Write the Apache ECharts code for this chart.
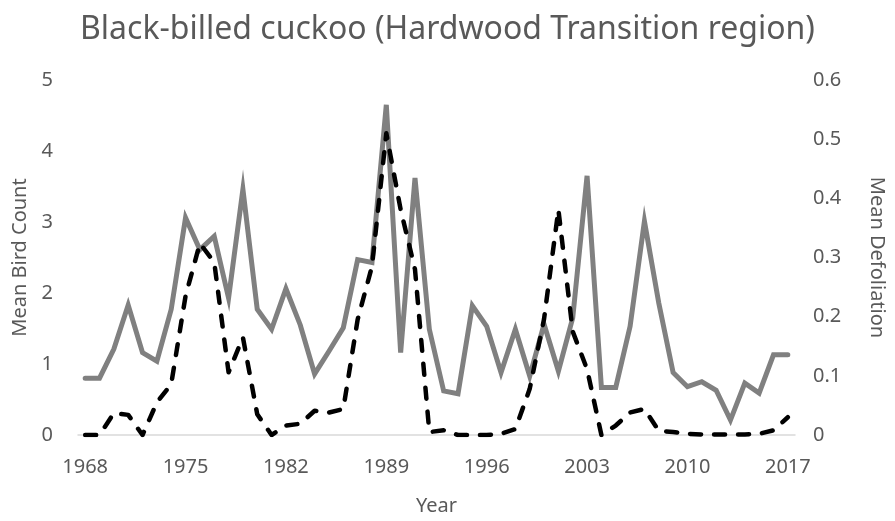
<!DOCTYPE html>
<html>
<head>
<meta charset="utf-8">
<script src="https://cdn.jsdelivr.net/npm/echarts@6/dist/echarts.min.js"></script>
<style>html,body{margin:0;padding:0;background:#fff}#c{width:895px;height:521px}</style>
</head>
<body>
<div id="c"></div>
<script>
const years = [];
for (let y = 1968; y <= 2017; y++) years.push(String(y));

const birdCount = [0.80, 0.80, 1.21, 1.83, 1.16, 1.04, 1.77, 3.06, 2.61, 2.80,
  1.93, 3.46, 1.77, 1.49, 2.06, 1.55, 0.86, 1.18, 1.51, 2.47,
  2.43, 4.65, 1.16, 3.62, 1.49, 0.62, 0.58, 1.82, 1.53, 0.88,
  1.49, 0.83, 1.56, 0.90, 1.65, 3.65, 0.67, 0.67, 1.53, 3.01,
  1.86, 0.88, 0.68, 0.75, 0.63, 0.21, 0.73, 0.59, 1.13, 1.13];

const defoliation = [0, 0, 0.037, 0.034, 0, 0.055, 0.086, 0.235, 0.324, 0.292,
  0.106, 0.165, 0.035, 0, 0.016, 0.019, 0.041, 0.038, 0.044, 0.195,
  0.285, 0.510, 0.381, 0.280, 0.005, 0.008, 0, 0, 0, 0.002,
  0.010, 0.078, 0.196, 0.381, 0.175, 0.111, 0, 0.016, 0.038, 0.044,
  0.007, 0.005, 0.002, 0.001, 0.001, 0.001, 0.001, 0.002, 0.008, 0.030];

const txt = '#595959';
const font = 'Noto Sans';
const chart = echarts.init(document.getElementById('c'), null, {renderer: 'canvas'});
chart.setOption({
  animation: false,
  backgroundColor: '#fff',
  title: {
    text: 'Black-billed cuckoo (Hardwood Transition region)',
    left: 'center', top: 9,
    textStyle: {color: txt, fontFamily: font, fontWeight: 'normal', fontSize: 32}
  },
  grid: {left: 78, right: 91, top: 80, bottom: 85},
  xAxis: {
    type: 'category', data: years, boundaryGap: true,
    name: 'Year', nameLocation: 'middle', nameGap: 61,
    nameTextStyle: {color: txt, fontFamily: font, fontSize: 20},
    axisLine: {lineStyle: {color: '#d9d9d9', width: 1.5}},
    axisTick: {show: false},
    axisLabel: {interval: 6, color: txt, fontFamily: font, fontSize: 20, margin: 22}
  },
  yAxis: [{
    type: 'value', min: 0, max: 5, interval: 1,
    name: 'Mean Bird Count', nameLocation: 'middle', nameGap: 47,
    nameTextStyle: {color: txt, fontFamily: font, fontSize: 20},
    axisLine: {show: false}, axisTick: {show: false}, splitLine: {show: false},
    axisLabel: {color: txt, fontFamily: font, fontSize: 20, margin: 25}
  }, {
    type: 'value', min: 0, max: 0.6, interval: 0.1, position: 'right',
    name: 'Mean Defoliation', nameLocation: 'middle', nameGap: 72, nameRotate: -90,
    nameTextStyle: {color: txt, fontFamily: font, fontSize: 20},
    axisLine: {show: false}, axisTick: {show: false}, splitLine: {show: false},
    axisLabel: {color: txt, fontFamily: font, fontSize: 20, margin: 18}
  }],
  series: [{
    name: 'Mean Bird Count', type: 'line', yAxisIndex: 0, data: birdCount,
    showSymbol: false, symbol: 'none',
    lineStyle: {color: '#808080', width: 5, cap: 'round', join: 'miter'}
  }, {
    name: 'Mean Defoliation', type: 'line', yAxisIndex: 1, data: defoliation,
    showSymbol: false, symbol: 'none',
    lineStyle: {color: '#000', width: 4.5, type: [11, 13], cap: 'round', join: 'round'}
  }]
});
</script>
</body>
</html>
